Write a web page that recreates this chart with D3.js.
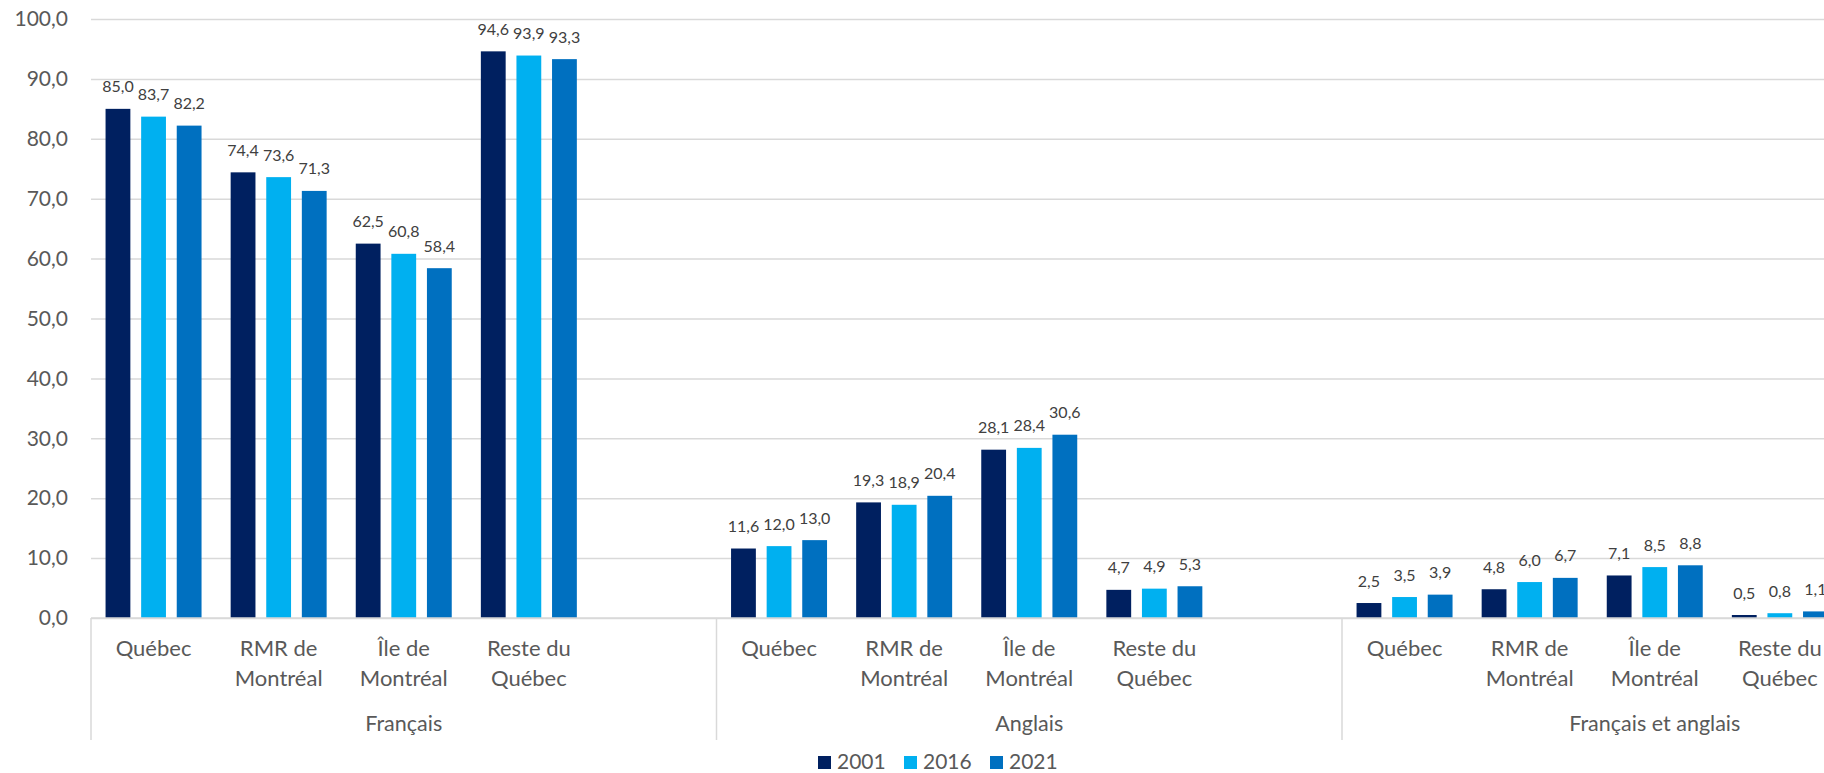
<!DOCTYPE html>
<html>
<head>
<meta charset="utf-8">
<script src="https://cdn.jsdelivr.net/npm/d3@7"></script>
<style>
  html, body { margin: 0; padding: 0; background: #fff; }
  svg { display: block; overflow: hidden; }
  text { font-family: Lato, "Noto Sans", sans-serif; }
</style>
</head>
<body>
<svg id="chart" width="1824" height="773"></svg>
<script>
// ---- data ----
const groups = ["Français", "Anglais", "Français et anglais"];
const categories = ["Québec", "RMR de Montréal", "Île de Montréal", "Reste du Québec", ""];
const categoryLines = [["Québec"], ["RMR de", "Montréal"], ["Île de", "Montréal"], ["Reste du", "Québec"], []];
const years = ["2001", "2016", "2021"];
const values2001 = [85.0, 74.4, 62.5, 94.6, 11.6, 19.3, 28.1, 4.7, 2.5, 4.8, 7.1, 0.5];
const values2016 = [83.7, 73.6, 60.8, 93.9, 12.0, 18.9, 28.4, 4.9, 3.5, 6.0, 8.5, 0.8];
const values2021 = [82.2, 71.3, 58.4, 93.3, 13.0, 20.4, 30.6, 5.3, 3.9, 6.7, 8.8, 1.1];
const yTicks = [0, 10, 20, 30, 40, 50, 60, 70, 80, 90, 100];
const colors = ["#002060", "#00B0F0", "#0070C0"];

const seriesValues = [values2001, values2016, values2021];

// ---- layout ----
const svg = d3.select("#chart");
const left = 91, slotW = 125.1;
const nSlots = groups.length * categories.length;
const right = left + nSlots * slotW;
const yTop = 19, yBase = 618;

const slotKeys = [];
groups.forEach((g, gi) => categories.forEach((c, ci) => slotKeys.push(gi + "|" + ci)));

const x = d3.scaleBand().domain(slotKeys).range([left, right]).padding(0);
const xs = d3.scaleBand().domain(years).range([0, slotW]).paddingInner(0.303).paddingOuter(0.409);
const y = d3.scaleLinear().domain([0, 100]).range([yBase, yTop]);

const loc = d3.formatLocale({decimal: ",", thousands: " ", grouping: [3], currency: ["", "$"]});
const fmt = loc.format(".1f");

// gridlines
const grid = svg.append("g")
  .attr("transform", `translate(${left},0)`)
  .call(d3.axisLeft(y).tickValues(yTicks).tickSize(-(right - left)).tickFormat(""));
grid.select(".domain").remove();
grid.selectAll("line").attr("stroke", "#D9D9D9").attr("stroke-width", 1.5);

// y tick labels
const yAxis = svg.append("g")
  .attr("transform", `translate(${left - 23},0)`)
  .call(d3.axisLeft(y).tickValues(yTicks).tickSize(0).tickPadding(0).tickFormat(fmt));
yAxis.select(".domain").remove();
yAxis.selectAll("text")
  .attr("font-size", 21).attr("fill", "#595959")
  .style("font-family", "Lato, 'Noto Sans', sans-serif");

// bars
const barData = [];
groups.forEach((g, gi) => {
  for (let ci = 0; ci < 4; ci++) {
    const idx = gi * 4 + ci;
    years.forEach((yr, si) => {
      barData.push({key: gi + "|" + ci, year: yr, si, v: seriesValues[si][idx]});
    });
  }
});

svg.append("g").selectAll("rect").data(barData).join("rect")
  .attr("x", d => x(d.key) + xs(d.year))
  .attr("y", d => y(d.v))
  .attr("width", xs.bandwidth())
  .attr("height", d => y(0) - y(d.v))
  .attr("fill", d => colors[d.si]);

// data labels
svg.append("g").selectAll("text").data(barData).join("text")
  .attr("x", d => x(d.key) + xs(d.year) + xs.bandwidth() / 2)
  .attr("y", d => y(d.v) - 16.5)
  .attr("text-anchor", "middle")
  .attr("font-size", 16)
  .attr("fill", "#404040")
  .text(d => fmt(d.v));

// x axis baseline
svg.append("line")
  .attr("x1", left).attr("x2", right)
  .attr("y1", y(0)).attr("y2", y(0))
  .attr("stroke", "#D9D9D9").attr("stroke-width", 1.5);

// group separators
const sepX = groups.map((g, gi) => x(gi + "|0")).concat([right]);
svg.append("g").selectAll("line").data(sepX).join("line")
  .attr("x1", d => d).attr("x2", d => d)
  .attr("y1", y(0)).attr("y2", 740)
  .attr("stroke", "#D9D9D9").attr("stroke-width", 1.5);

// category labels
const catG = svg.append("g");
slotKeys.forEach(k => {
  const ci = +k.split("|")[1];
  const cx = x(k) + x.bandwidth() / 2;
  categoryLines[ci].forEach((line, li) => {
    catG.append("text")
      .attr("x", cx).attr("y", 656 + li * 30)
      .attr("text-anchor", "middle")
      .attr("font-size", 22).attr("fill", "#595959")
      .text(line);
  });
});

// group labels
svg.append("g").selectAll("text").data(groups).join("text")
  .attr("x", (d, gi) => x(gi + "|0") + (categories.length * slotW) / 2)
  .attr("y", 731)
  .attr("text-anchor", "middle")
  .attr("font-size", 21.5).attr("fill", "#595959")
  .text(d => d);

// legend
const legendX = [818, 904, 990];
const lg = svg.append("g");
years.forEach((yr, i) => {
  lg.append("rect").attr("x", legendX[i]).attr("y", 756).attr("width", 13).attr("height", 13).attr("fill", colors[i]);
  lg.append("text").attr("x", legendX[i] + 19).attr("y", 769)
    .attr("font-size", 21).attr("fill", "#595959").text(yr);
});
</script>
</body>
</html>
